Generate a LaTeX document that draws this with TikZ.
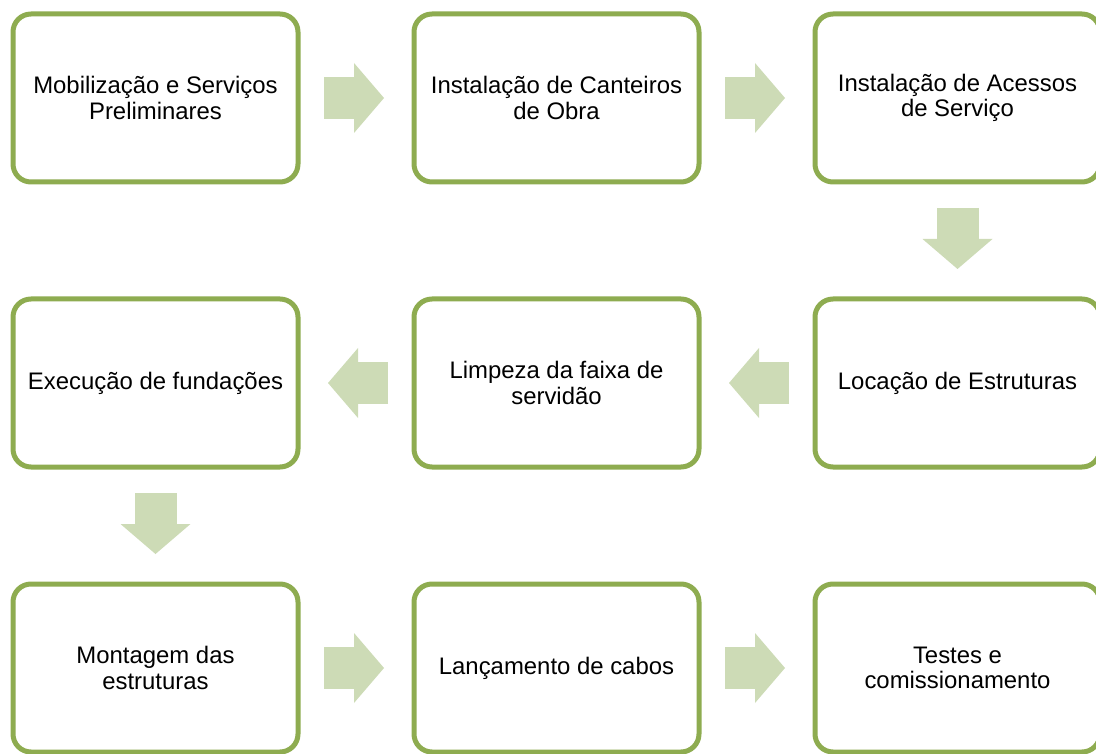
\documentclass[tikz,border=0pt]{standalone}
\usepackage{fontspec}
\setmainfont{Liberation Sans}
\usetikzlibrary{arrows.meta, positioning}
\definecolor{boxgreen}{HTML}{8EAC50}
\definecolor{arrowgreen}{HTML}{CDDBB6}
\tikzstyle{stage} = [
  rectangle,
  rounded corners=18pt,
  minimum width=285pt,
  minimum height=168pt,
  outer sep=0pt,
  align=center,
  draw=boxgreen,
  line width=5pt,
  fill=white,
  font=\fontsize{23.9}{25.6}\selectfont
]
\tikzstyle{arrow} = [
  line width=42pt,
  draw=arrowgreen,
  -{Triangle[length=30pt, width=70pt, line width=0pt]},
  shorten <=26pt,
  shorten >=30pt
]

\begin{document}
\begin{tikzpicture}[x=1pt, y=1pt, node distance=117pt and 116pt]
    \useasboundingbox (0,0) rectangle (1096,-754);
    \node (mobilizacao) [stage] at (155.5,-98) {Mobilização e Serviços\\Preliminares};
    \node (canteiros) [stage, right=of mobilizacao] {Instalação de Canteiros\\de Obra};
    \node (acessos) [stage, right=of canteiros] {Instalação de Acessos\\de Serviço};
    \node (locacao) [stage, below=of acessos] {Locação de Estruturas};
    \node (limpeza) [stage, left=of locacao] {Limpeza da faixa de\\servidão};
    \node (fundacoes) [stage, left=of limpeza] {Execução de fundações};
    \node (montagem) [stage, below=of fundacoes] {Montagem das\\estruturas};
    \node (cabos) [stage, right=of montagem] {Lançamento de cabos};
    \node (testes) [stage, right=of cabos] {Testes e\\comissionamento};

    \draw [arrow] (mobilizacao) -- (canteiros);
    \draw [arrow] (canteiros) -- (acessos);
    \draw [arrow] (acessos) -- (locacao);
    \draw [arrow] (locacao) -- (limpeza);
    \draw [arrow] (limpeza) -- (fundacoes);
    \draw [arrow] (fundacoes) -- (montagem);
    \draw [arrow] (montagem) -- (cabos);
    \draw [arrow] (cabos) -- (testes);
  \end{tikzpicture}
\end{document}
